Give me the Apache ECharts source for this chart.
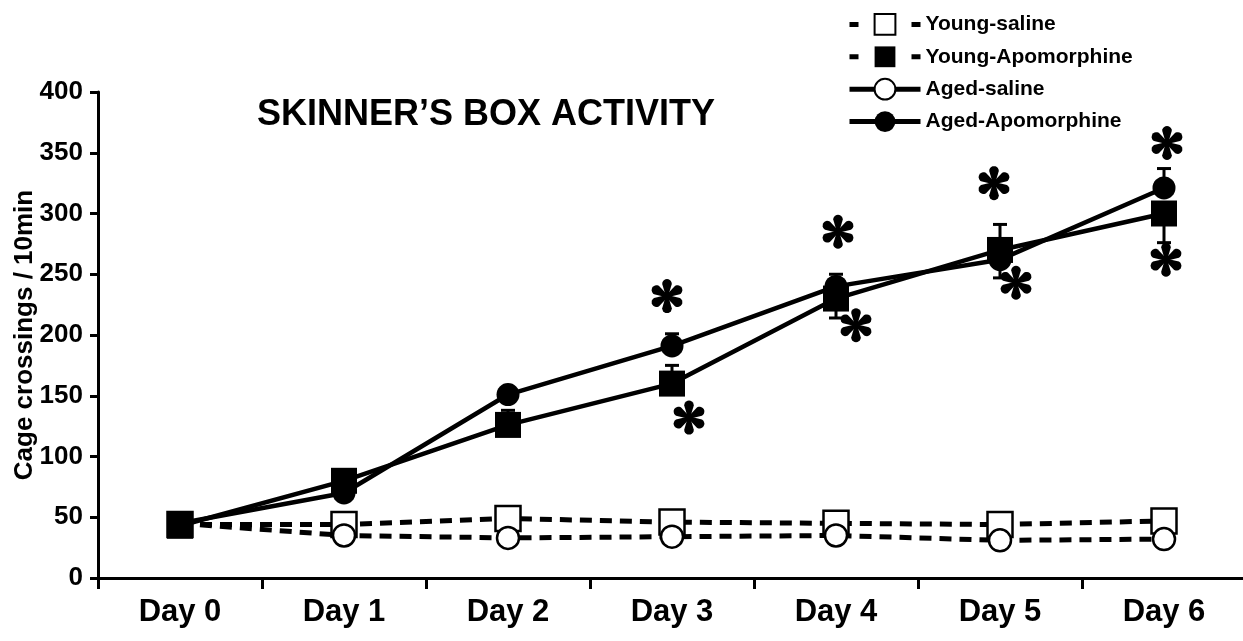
<!DOCTYPE html>
<html>
<head>
<meta charset="utf-8">
<script src="https://cdn.jsdelivr.net/npm/echarts@6/dist/echarts.min.js"></script>
<style>
  html, body { margin: 0; padding: 0; background: #fff; }
  #chart { width: 1243px; height: 641px; }
</style>
</head>
<body>
<div id="chart"></div>
<script>
// ---- data -------------------------------------------------------------
const days = ['Day 0', 'Day 1', 'Day 2', 'Day 3', 'Day 4', 'Day 5', 'Day 6'];

const youngSaline = [44, 44, 49, 46, 45, 44, 47];
const agedSaline  = [45, 35, 33, 34, 35, 31, 32];
const youngApo    = [43, 80, 126, 160, 230, 270, 300];
const agedApo     = [45, 70, 151, 191, 240, 262, 321];

// SEM of the apomorphine groups
const youngApoSem = [3, 5, 12, 15, 16, 21, 24];
const agedApoSem  = [3, 4, 5, 10, 10, 15, 16];

// significance marks: [day index, value]
const starsAged  = [[3, 232], [4, 285], [5, 325], [6, 358]];
const starsYoung = [[3, 132], [4, 208], [5, 243], [6, 262]];

const yMin = 0, yMax = 400, yStep = 50;

// ---- style ------------------------------------------------------------
const FONT = "'Liberation Sans', Arial, sans-serif";
const INK = '#000';
const DASH = [12, 8];
// which side of the mean each error bar is drawn on (1 = up, -1 = down)
const youngBarSide = [1, 1, 1, 1, -1, 1, -1];
const agedBarSide  = [1, 1, 1, 1, 1, -1, 1];
// horizontal nudge (px) of the stars at each day
const youngStarShift = [0, 0, 0, 17, 20, 16, 2];
const agedStarShift  = [0, 0, 0, -5, 2, -6, 3];

function errorBars(means, sems, sides) {
  return {
    type: 'custom',
    silent: true,
    z: 1,
    data: means.map((m, i) => [i, m, m + sides[i] * sems[i]]),
    renderItem(params, api) {
      const lo = api.coord([api.value(0), api.value(1)]);
      const hi = api.coord([api.value(0), api.value(2)]);
      const cap = 7;
      const st = { stroke: INK, lineWidth: 3 };
      return {
        type: 'group',
        children: [
          { type: 'line', shape: { x1: lo[0], y1: lo[1], x2: hi[0], y2: hi[1] }, style: st },
          { type: 'line', shape: { x1: hi[0] - cap, y1: hi[1], x2: hi[0] + cap, y2: hi[1] }, style: st }
        ]
      };
    }
  };
}

// one teardrop arm of the bold asterisk
function petal(cx, cy, ang, len, w) {
  const pts = [];
  const ux = Math.cos(ang), uy = -Math.sin(ang);
  const px = -uy, py = ux;
  pts.push([cx + px * 1.2, cy + py * 1.2]);
  const tc = len - w;
  for (let k = 0; k <= 10; k++) {
    const t = -Math.PI / 2 + Math.PI * k / 10;
    const a = Math.cos(t), b = -Math.sin(t);
    pts.push([cx + ux * (tc + a * w) + px * b * w, cy + uy * (tc + a * w) + py * b * w]);
  }
  pts.push([cx - px * 1.2, cy - py * 1.2]);
  return { type: 'polygon', shape: { points: pts }, style: { fill: INK } };
}

function starSeries(stars, shifts) {
  return {
    type: 'custom',
    silent: true,
    z: 5,
    data: stars,
    renderItem(params, api) {
      const d = api.value(0);
      const p = api.coord([d, api.value(1)]);
      const cx = p[0] + shifts[d];
      const children = [];
      for (let k = 0; k < 6; k++) {
        children.push(petal(cx, p[1], Math.PI / 2 + k * Math.PI / 3, 17, 4.8));
      }
      return { type: 'group', children };
    }
  };
}

const chart = echarts.init(document.getElementById('chart'), null, { renderer: 'canvas' });

chart.setOption({
  animation: false,
  backgroundColor: '#fff',
  title: {
    text: 'SKINNER\u2019S BOX ACTIVITY',
    left: 252,
    top: 92,
    textStyle: { fontFamily: FONT, fontWeight: 'bold', fontSize: 36, color: INK }
  },
  legend: {
    orient: 'vertical',
    left: 842,
    top: 8,
    itemWidth: 71,
    itemHeight: 26,
    itemGap: 10.5,
    textStyle: { fontFamily: FONT, fontWeight: 'bold', fontSize: 21, color: INK },
    data: [
      { name: 'Young-saline', lineStyle: { type: [9, 53], width: 5 } },
      { name: 'Young-Apomorphine', lineStyle: { type: [9, 53], width: 5 } },
      { name: 'Aged-saline', lineStyle: { type: 'solid', width: 5 } },
      { name: 'Aged-Apomorphine', lineStyle: { type: 'solid', width: 5 } }
    ]
  },
  grid: { left: 98, top: 92, width: 1148, height: 486, outerBoundsMode: 'none', containLabel: false },
  xAxis: {
    type: 'category',
    data: days,
    boundaryGap: true,
    axisLine: { lineStyle: { color: INK, width: 3 } },
    axisTick: { show: true, length: 11, lineStyle: { color: INK, width: 3 } },
    axisLabel: { margin: 19, fontFamily: FONT, fontWeight: 'bold', fontSize: 31, color: INK },
    splitLine: { show: false }
  },
  yAxis: {
    type: 'value',
    min: yMin,
    max: yMax,
    interval: yStep,
    name: 'Cage crossings / 10min',
    nameLocation: 'middle',
    nameGap: 60,
    nameMoveOverlap: false,
    nameTextStyle: { fontFamily: FONT, fontWeight: 'bold', fontSize: 26, color: INK },
    axisLine: { show: true, lineStyle: { color: INK, width: 3 } },
    axisTick: { show: true, length: 8, lineStyle: { color: INK, width: 3 } },
    axisLabel: { margin: 15, fontFamily: FONT, fontWeight: 'bold', fontSize: 26, color: INK },
    splitLine: { show: false }
  },
  series: [
    errorBars(youngApo, youngApoSem, youngBarSide),
    errorBars(agedApo, agedApoSem, agedBarSide),
    {
      name: 'Young-saline', type: 'line', data: youngSaline, z: 2,
      symbol: 'rect', symbolSize: 25,
      lineStyle: { color: INK, width: 5, type: DASH },
      itemStyle: { color: '#fff', borderColor: INK, borderWidth: 2.5 }
    },
    {
      name: 'Aged-saline', type: 'line', data: agedSaline, z: 2,
      symbol: 'circle', symbolSize: 22,
      lineStyle: { color: INK, width: 5, type: DASH },
      itemStyle: { color: '#fff', borderColor: INK, borderWidth: 2.5 }
    },
    {
      name: 'Young-Apomorphine', type: 'line', data: youngApo, z: 3,
      symbol: 'rect', symbolSize: 26,
      lineStyle: { color: INK, width: 4.5 },
      itemStyle: { color: INK, borderColor: INK, borderWidth: 0 }
    },
    {
      name: 'Aged-Apomorphine', type: 'line', data: agedApo, z: 3,
      symbol: 'circle', symbolSize: 23,
      lineStyle: { color: INK, width: 4.5 },
      itemStyle: { color: INK, borderColor: INK, borderWidth: 0 }
    },
    starSeries(starsAged, agedStarShift),
    starSeries(starsYoung, youngStarShift)
  ]
});
</script>
</body>
</html>
